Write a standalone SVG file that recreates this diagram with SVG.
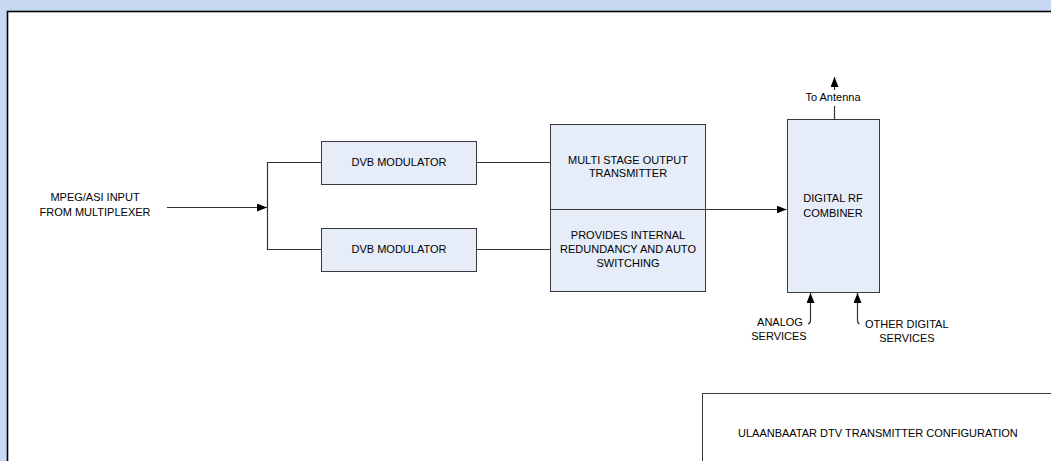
<svg xmlns="http://www.w3.org/2000/svg" width="1051" height="461" viewBox="0 0 1051 461">
  <style>
    .box { fill: #e6edf8; stroke: #3a3a3a; stroke-width: 1; }
    .wire { fill: none; stroke: #333333; stroke-width: 1.2; }
    .lbl { font-family: "Liberation Sans", Arial, sans-serif; font-size: 11px; fill: #000000; text-anchor: middle; }
    .lbl-l { font-family: "Liberation Sans", Arial, sans-serif; font-size: 11px; fill: #000000; }
  </style>
  <defs>
    <marker id="arrow" viewBox="0 0 10 8" refX="10" refY="4" markerWidth="10" markerHeight="8" markerUnits="userSpaceOnUse" orient="auto">
      <path d="M0,0 L10,4 L0,8 Z" fill="#000000"/>
    </marker>
  </defs>

  <!-- page background and sheet -->
  <rect x="0" y="0" width="1051" height="461" fill="#c6d9f0"/>
  <rect x="7.5" y="11.5" width="1060" height="470" fill="#ffffff" stroke="#000000" stroke-width="1.6"/>

  <!-- connectors -->
  <g id="connectors">
    <path class="wire" d="M167,207.5 L267,207.5" marker-end="url(#arrow)"/>
    <path class="wire" d="M322,162.5 L267.5,162.5 L267.5,249.5 L322,249.5"/>
    <path class="wire" d="M477,162.5 L551,162.5"/>
    <path class="wire" d="M477,249.5 L551,249.5"/>
    <path class="wire" d="M706,209.5 L786.5,209.5" marker-end="url(#arrow)"/>
    <path class="wire" d="M834.5,119 L834.5,106"/>
    <path class="wire" d="M834.5,90 L834.5,77" marker-end="url(#arrow)"/>
    <path class="wire" d="M808,324 Q810.5,323.5 810.5,320 L810.5,293" marker-end="url(#arrow)"/>
    <path class="wire" d="M859.5,324 Q857.5,323.5 857.5,320 L857.5,293" marker-end="url(#arrow)"/>
  </g>

  <!-- input label -->
  <g id="input">
    <text class="lbl" x="95" y="201">MPEG/ASI INPUT</text>
    <text class="lbl" x="95" y="216">FROM MULTIPLEXER</text>
  </g>

  <g id="dvb-modulator-1">
    <rect class="box" x="321.5" y="141.5" width="155" height="43"/>
    <text class="lbl" x="399" y="166">DVB MODULATOR</text>
  </g>

  <g id="dvb-modulator-2">
    <rect class="box" x="321.5" y="228.5" width="155" height="43"/>
    <text class="lbl" x="399" y="253">DVB MODULATOR</text>
  </g>

  <g id="transmitter">
    <rect class="box" x="550.5" y="124.5" width="155" height="167"/>
    <line x1="550.5" y1="209.5" x2="705.5" y2="209.5" stroke="#3a3a3a" stroke-width="1.2"/>
    <text class="lbl" x="628" y="164">MULTI STAGE OUTPUT</text>
    <text class="lbl" x="628" y="177">TRANSMITTER</text>
    <text class="lbl" x="628" y="239">PROVIDES INTERNAL</text>
    <text class="lbl" x="628" y="253">REDUNDANCY AND AUTO</text>
    <text class="lbl" x="628" y="267">SWITCHING</text>
  </g>

  <g id="combiner">
    <rect class="box" x="787.5" y="119.5" width="92" height="173"/>
    <text class="lbl" x="833" y="202">DIGITAL RF</text>
    <text class="lbl" x="833" y="217">COMBINER</text>
  </g>

  <g id="antenna">
    <text class="lbl" x="833" y="101">To Antenna</text>
  </g>

  <g id="analog-services">
    <text class="lbl" x="780" y="326">ANALOG</text>
    <text class="lbl" x="779" y="340">SERVICES</text>
  </g>

  <g id="other-digital-services">
    <text class="lbl-l" x="865" y="328">OTHER DIGITAL</text>
    <text class="lbl" x="907" y="342">SERVICES</text>
  </g>

  <g id="title-block">
    <rect x="702.5" y="393.5" width="400" height="100" fill="#ffffff" stroke="#3a3a3a" stroke-width="1"/>
    <text class="lbl-l" x="738" y="437">ULAANBAATAR DTV TRANSMITTER CONFIGURATION</text>
  </g>
</svg>
